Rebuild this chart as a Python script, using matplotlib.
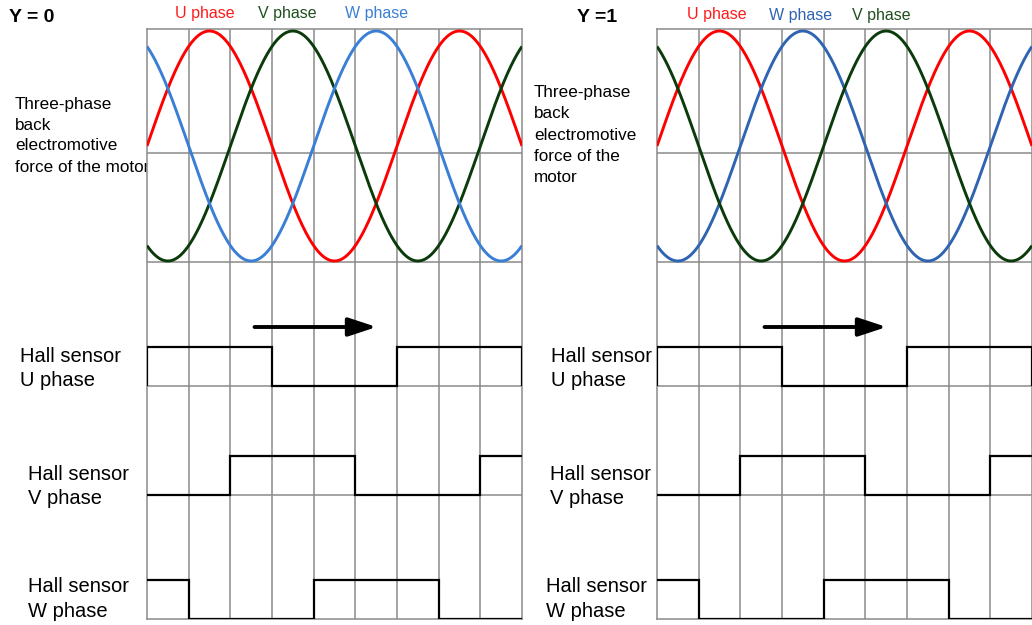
import numpy as np
import matplotlib
matplotlib.use("Agg")
import matplotlib.pyplot as plt

plt.rcParams['font.family'] = ['Liberation Sans', 'DejaVu Sans']

# ---------------- data ----------------
n_cells = 9                      # grid cells along the time axis
period_cells = 6                 # one electrical period = 6 cells
phase_names_left = ['U', 'V', 'W']
phase_offsets_left = [0, 2, 4]   # zero-crossing (rising) position in cells
phase_names_right = ['U', 'W', 'V']
phase_offsets_right = [0, 2, 4]
hall_u = [1, 1, 1, 0, 0, 0, 1, 1, 1]
hall_v = [0, 0, 1, 1, 1, 0, 0, 0, 1]
hall_w = [1, 0, 0, 0, 1, 1, 1, 0, 0]
titles = ['Y = 0', 'Y =1']
emf_label_left = ['Three-phase', 'back', 'electromotive', 'force of the motor']
emf_label_right = ['Three-phase', 'back', 'electromotive', 'force of the', 'motor']
hall_labels = [['Hall sensor', 'U phase'], ['Hall sensor', 'V phase'], ['Hall sensor', 'W phase']]

# ---------------- style / layout ----------------
W, H = 1032, 625
col = {'U': '#ff0000', 'V': '#0b3b0b'}
col_w = ['#3a7fd6', '#2f64b2']
label_col = {'U': '#ff1a1a', 'V': '#1f4f1f'}
grid_col = '#8a8a8a'

fig = plt.figure(figsize=(W / 100, H / 100), dpi=100)


def fx(x):
    return x / W


def fy(y):
    return 1 - y / H


def panel(x0, names, offsets, wcol):
    ax = fig.add_axes([fx(x0), fy(619), 375 / W, 590 / H])
    ax.set_xlim(0, n_cells)
    ax.set_ylim(619, 29)
    ax.set_xticks([])
    ax.set_yticks([])
    for s in ax.spines.values():
        s.set_color(grid_col)
        s.set_linewidth(1.1)
    for k in range(1, n_cells):
        ax.axvline(k, color=grid_col, lw=1.1, zorder=1)
    for yy in [153, 262, 386, 495]:
        ax.axhline(yy, color=grid_col, lw=1.1, zorder=1)
    # back EMF sine waves
    x = np.linspace(0, n_cells, 800)
    center, amp = 146, 115
    for name, off in zip(names, offsets):
        c = wcol if name == 'W' else col[name]
        ax.plot(x, center - amp * np.sin(2 * np.pi * (x - off) / period_cells),
                color=c, lw=2.1, zorder=3, solid_capstyle='butt')
    # hall signals
    edges = np.arange(n_cells + 1)
    lows = [386, 495, 619]
    for i, (st, low) in enumerate(zip([hall_u, hall_v, hall_w], lows)):
        vals = low - 39 * np.array(st)
        ax.stairs(vals, edges, baseline=(low if i == 0 else None),
                  color='black', lw=1.6, zorder=4)
    # arrow
    ax.annotate('', xy=(5.51, 327), xytext=(2.58, 327),
                arrowprops=dict(arrowstyle='-|>,head_length=0.85,head_width=0.28',
                                color='black', lw=2.8, mutation_scale=20,
                                shrinkA=0, shrinkB=0),
                zorder=5)
    ax.set_zorder(5)
    return ax


panel(147, phase_names_left, phase_offsets_left, col_w[0])
panel(657, phase_names_right, phase_offsets_right, col_w[1])

# titles
fig.text(fx(9), fy(18), titles[0], fontsize=14, fontweight='bold', va='center', ha='left')
fig.text(fx(577), fy(18), titles[1], fontsize=14, fontweight='bold', va='center', ha='left')

# phase labels
lab_left = [('U', 175, 13.5), ('V', 258, 13.5), ('W', 345, 13.5)]
for n, xx, yy in lab_left:
    c = col_w[0] if n == 'W' else label_col[n]
    fig.text(fx(xx), fy(yy), f'{n} phase', color=c, fontsize=11.5, va='center', ha='left')
lab_right = [('U', 687, 14), ('W', 769, 15.5), ('V', 852, 15.5)]
for n, xx, yy in lab_right:
    c = col_w[1] if n == 'W' else label_col[n]
    fig.text(fx(xx), fy(yy), f'{n} phase', color=c, fontsize=11.5, va='center', ha='left')

# back EMF descriptive text
for i, t in enumerate(emf_label_left):
    fig.text(fx(15), fy(104 + 21 * i), t, fontsize=12.3, va='center', ha='left')
for i, t in enumerate(emf_label_right):
    fig.text(fx(534), fy(92 + 21.5 * i), t, fontsize=12.3, va='center', ha='left')

# hall labels
hall_pos_left = [(20, 356), (28, 474.5), (28, 587)]
hall_pos_right = [(551, 356), (550, 474.5), (546, 587)]
for lines, (xl, yl), (xr, yr) in zip(hall_labels, hall_pos_left, hall_pos_right):
    for j, t in enumerate(lines):
        fig.text(fx(xl), fy(yl + 24.5 * j), t, fontsize=14.5, va='center', ha='left')
        fig.text(fx(xr), fy(yr + 24.5 * j), t, fontsize=14.5, va='center', ha='left')

fig.savefig('out.png', dpi=100)
